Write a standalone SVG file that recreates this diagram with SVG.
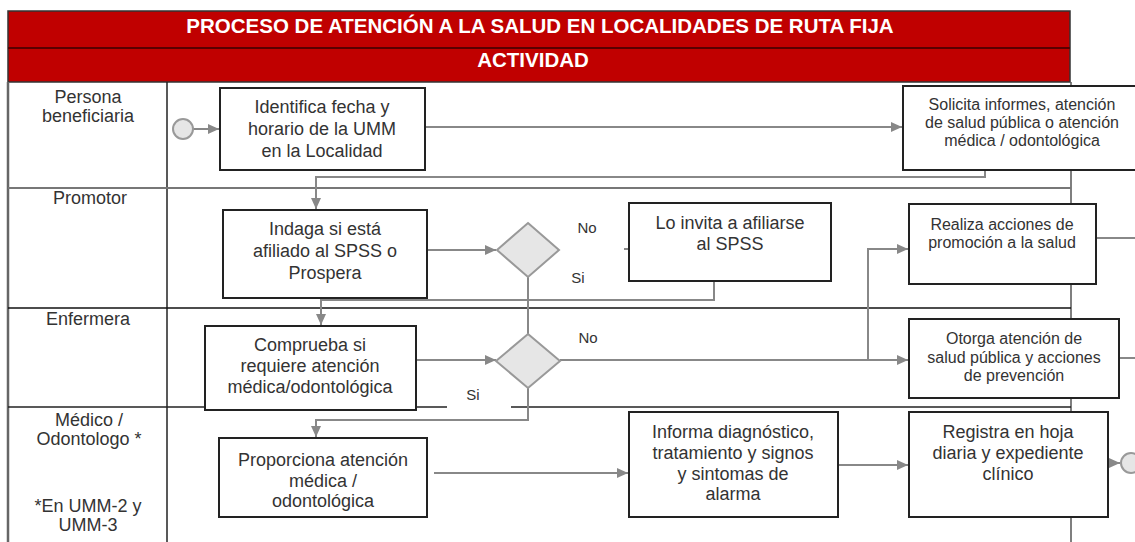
<svg xmlns="http://www.w3.org/2000/svg" width="1135" height="542" viewBox="0 0 1135 542">
<style>
.hdr{fill:#c00000}
.hdrtxt{font-family:"Liberation Sans",Arial,sans-serif;font-weight:bold;fill:#ffffff;text-anchor:middle}
.lane{font-family:"Liberation Sans",Arial,sans-serif;font-size:18px;fill:#333;text-anchor:middle}
.box{fill:#fff;stroke:#222;stroke-width:2}
.t18{font-family:"Liberation Sans",Arial,sans-serif;font-size:18px;fill:#333;text-anchor:middle}
.t16{font-family:"Liberation Sans",Arial,sans-serif;font-size:16px;fill:#333;text-anchor:middle}
.lbl{font-family:"Liberation Sans",Arial,sans-serif;font-size:15px;fill:#333;text-anchor:middle}
.dia{fill:#e6e6e6;stroke:#999;stroke-width:2}
.ev{fill:#e6e6e6;stroke:#999;stroke-width:2}
.con{fill:none;stroke:#888;stroke-width:2}
.ar{marker-end:url(#arr)}
</style>
<defs>
<marker id="arr" markerUnits="userSpaceOnUse" markerWidth="12" markerHeight="10" refX="11" refY="5" orient="auto">
<path d="M0,0 L11,5 L0,10 Z" fill="#888"/>
</marker>
</defs>
<rect width="1135" height="542" fill="#fff"/>
<g id="header">
<rect class="hdr" x="8" y="11" width="1062" height="71" stroke="#333" stroke-width="1.5"/>
<line x1="8" y1="48" x2="1070" y2="48" stroke="#5a0000" stroke-width="2"/>
<text class="hdrtxt" x="540" y="33" font-size="20.5">PROCESO DE ATENCIÓN A LA SALUD EN LOCALIDADES DE RUTA FIJA</text>
<text class="hdrtxt" x="533" y="67" font-size="20.5">ACTIVIDAD</text>
</g>
<g id="frame">
<line x1="8" y1="82" x2="8" y2="542" stroke="#666" stroke-width="2.5"/>
<line x1="167" y1="82" x2="167" y2="542" stroke="#222" stroke-width="1.5"/>
<line x1="1071" y1="82" x2="1071" y2="542" stroke="#555" stroke-width="1.5"/>
<line x1="8" y1="188" x2="1071" y2="188" stroke="#777" stroke-width="2"/>
<line x1="8" y1="308" x2="1071" y2="308" stroke="#111" stroke-width="1.5"/>
<line x1="8" y1="407" x2="447" y2="407" stroke="#222" stroke-width="1.5"/>
<line x1="511" y1="407" x2="1071" y2="407" stroke="#222" stroke-width="1.5"/>
</g>
<g id="lanes">
<text class="lane" x="88" y="103">Persona</text>
<text class="lane" x="88" y="122">beneficiaria</text>
<text class="lane" x="90" y="204">Promotor</text>
<text class="lane" x="88" y="325">Enfermera</text>
<text class="lane" x="89" y="426">Médico /</text>
<text class="lane" x="89" y="445">Odontologo *</text>
<text class="lane" x="88" y="512">*En UMM-2 y</text>
<text class="lane" x="88" y="531">UMM-3</text>
</g>
<g id="connectors">
<path class="con ar" d="M193,129 H219"/>
<path class="con ar" d="M425,127 H902"/>
<path class="con ar" d="M985,170 V177 H316 V209"/>
<path class="con ar" d="M427,250 H496"/>
<path class="con" d="M624,249 H629"/>
<path class="con" d="M528,277 V334"/>
<path class="con ar" d="M714,281 V300 H321 V325"/>
<path class="con ar" d="M416,360 H496"/>
<path class="con ar" d="M560,360 H908"/>
<path class="con ar" d="M868,360 V249 H908"/>
<path class="con ar" d="M528,388 V420 H316 V437"/>
<path class="con ar" d="M434,473 H628"/>
<path class="con ar" d="M838,465 H908"/>
<path class="con ar" d="M1108,463 H1120"/>
<path class="con" d="M1096,238 H1135"/>
<path class="con" d="M1119,358 H1135"/>
</g>
<g id="start"><circle class="ev" cx="183" cy="129" r="10"/></g>
<g id="end"><circle class="ev" cx="1131" cy="463" r="10"/></g>
<g id="identifica">
<rect class="box" x="220" y="88" width="205" height="82"/>
<text class="t18" x="322" y="113">Identifica fecha y</text>
<text class="t18" x="322" y="135">horario de la UMM</text>
<text class="t18" x="322" y="157">en la Localidad</text>
</g>
<g id="solicita">
<rect class="box" x="903" y="86" width="238" height="84"/>
<text class="t16" x="1022" y="110">Solicita informes, atención</text>
<text class="t16" x="1022" y="128">de salud pública o atención</text>
<text class="t16" x="1022" y="146">médica / odontológica</text>
</g>
<g id="indaga">
<rect class="box" x="223" y="210" width="204" height="88"/>
<text class="t18" x="325" y="235">Indaga si está</text>
<text class="t18" x="325" y="257">afiliado al SPSS o</text>
<text class="t18" x="325" y="279">Prospera</text>
</g>
<g id="decision1">
<polygon class="dia" points="528,223 559,250 528,277 497,250"/>
<text class="lbl" x="587" y="233">No</text>
<text class="lbl" x="578" y="283">Si</text>
</g>
<g id="invita">
<rect class="box" x="629" y="203" width="202" height="78"/>
<text class="t18" x="730" y="229">Lo invita a afiliarse</text>
<text class="t18" x="730" y="250">al SPSS</text>
</g>
<g id="realiza">
<rect class="box" x="909" y="204" width="187" height="80"/>
<text class="t16" x="1002" y="230">Realiza acciones de</text>
<text class="t16" x="1002" y="248">promoción a la salud</text>
</g>
<g id="comprueba">
<rect class="box" x="205" y="326" width="211" height="84"/>
<text class="t18" x="310" y="351">Comprueba si</text>
<text class="t18" x="310" y="372">requiere atención</text>
<text class="t18" x="310" y="393">médica/odontológica</text>
</g>
<g id="decision2">
<polygon class="dia" points="528,334 560,361 528,388 496,361"/>
<text class="lbl" x="588" y="343">No</text>
<text class="lbl" x="473" y="400">Si</text>
</g>
<g id="otorga">
<rect class="box" x="909" y="319" width="210" height="79"/>
<text class="t16" x="1014" y="344">Otorga atención de</text>
<text class="t16" x="1014" y="363">salud pública y acciones</text>
<text class="t16" x="1014" y="381">de prevención</text>
</g>
<g id="proporciona">
<rect class="box" x="219" y="438" width="208" height="79"/>
<text class="t18" x="323" y="466">Proporciona atención</text>
<text class="t18" x="323" y="487">médica /</text>
<text class="t18" x="323" y="507">odontológica</text>
</g>
<g id="informa">
<rect class="box" x="629" y="412" width="209" height="105"/>
<text class="t18" x="733" y="438">Informa diagnóstico,</text>
<text class="t18" x="733" y="459">tratamiento y signos</text>
<text class="t18" x="733" y="480">y sintomas de</text>
<text class="t18" x="733" y="500">alarma</text>
</g>
<g id="registra">
<rect class="box" x="909" y="412" width="199" height="105"/>
<text class="t18" x="1008" y="438">Registra en hoja</text>
<text class="t18" x="1008" y="459">diaria y expediente</text>
<text class="t18" x="1008" y="480">clínico</text>
</g>
</svg>
